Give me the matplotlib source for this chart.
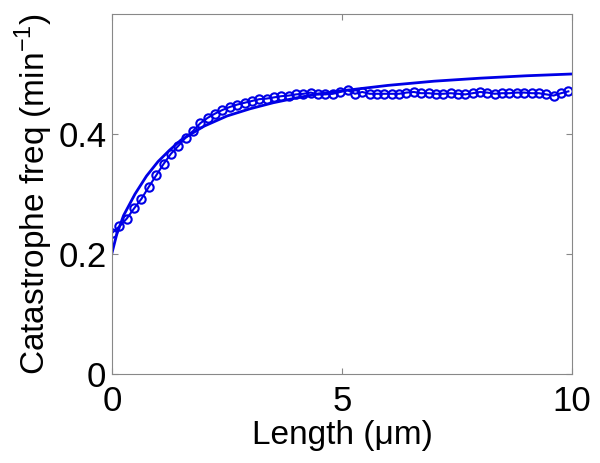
import numpy as np
import matplotlib
matplotlib.use("Agg")
import matplotlib.pyplot as plt

plt.rcParams['font.family'] = ['Liberation Sans', 'DejaVu Sans']
plt.rcParams['mathtext.fontset'] = 'custom'
plt.rcParams['mathtext.rm'] = 'Liberation Sans'

# measured catastrophe frequency (markers), one point every 0.16 um
length = np.round(np.arange(63) * 0.16, 2)
freq = [0.235, 0.246, 0.259, 0.276, 0.292, 0.312, 0.331, 0.350, 0.367, 0.380,
        0.394, 0.405, 0.418, 0.427, 0.434, 0.440, 0.445, 0.449, 0.452, 0.455,
        0.458, 0.459, 0.461, 0.463, 0.464, 0.466, 0.467, 0.469, 0.466, 0.466,
        0.467, 0.470, 0.473, 0.467, 0.470, 0.467, 0.467, 0.467, 0.467, 0.467,
        0.469, 0.470, 0.468, 0.468, 0.467, 0.467, 0.468, 0.467, 0.466, 0.468,
        0.470, 0.469, 0.467, 0.468, 0.468, 0.469, 0.469, 0.468, 0.468, 0.466,
        0.464, 0.468, 0.471]

# fitted curve
fit_x = [0.0, 0.1, 0.25, 0.5, 0.75, 1.0, 1.25, 1.5, 2.0, 2.5, 3.0, 3.5,
         4.0, 4.5, 5.0, 6.0, 7.0, 8.0, 9.0, 10.0]
fit_y = [0.202, 0.232, 0.264, 0.300, 0.330, 0.354, 0.373, 0.390, 0.413, 0.430,
         0.442, 0.452, 0.460, 0.467, 0.472, 0.481, 0.488, 0.493, 0.497, 0.500]

xticks = [0, 5, 10]
yticks = [0, 0.2, 0.4]

blue = '#0000e6'

fig = plt.figure(figsize=(6.0, 4.63), dpi=100)
ax = fig.add_axes([0.1867, 0.1922, 0.7667, 0.7776])

ax.plot(fit_x, fit_y, color=blue, linewidth=2.0)
ax.plot(length, freq, color=blue, linewidth=1.5, marker='o', markersize=6,
        markerfacecolor='none', markeredgewidth=1.5)

ax.set_xlim(0, 10)
ax.set_ylim(0, 0.6)
ax.set_xticks(xticks)
ax.set_yticks(yticks)
ax.set_xticklabels(['0', '5', '10'])
ax.set_yticklabels(['0', '0.2', '0.4'])
ax.tick_params(direction='in', length=4, width=0.8, color='#888888',
               labelsize=25, top=True, right=True)
ax.tick_params(axis='x', pad=8)
ax.tick_params(axis='y', pad=4)
for s in ax.spines.values():
    s.set_color('#888888')
    s.set_linewidth(0.8)

ax.set_xlabel('Length (\u03bcm)', fontsize=24, labelpad=1)
ax.set_ylabel('Catastrophe freq (min$^{-1}$)', fontsize=24, labelpad=2)

plt.savefig('out.png', dpi=100)
